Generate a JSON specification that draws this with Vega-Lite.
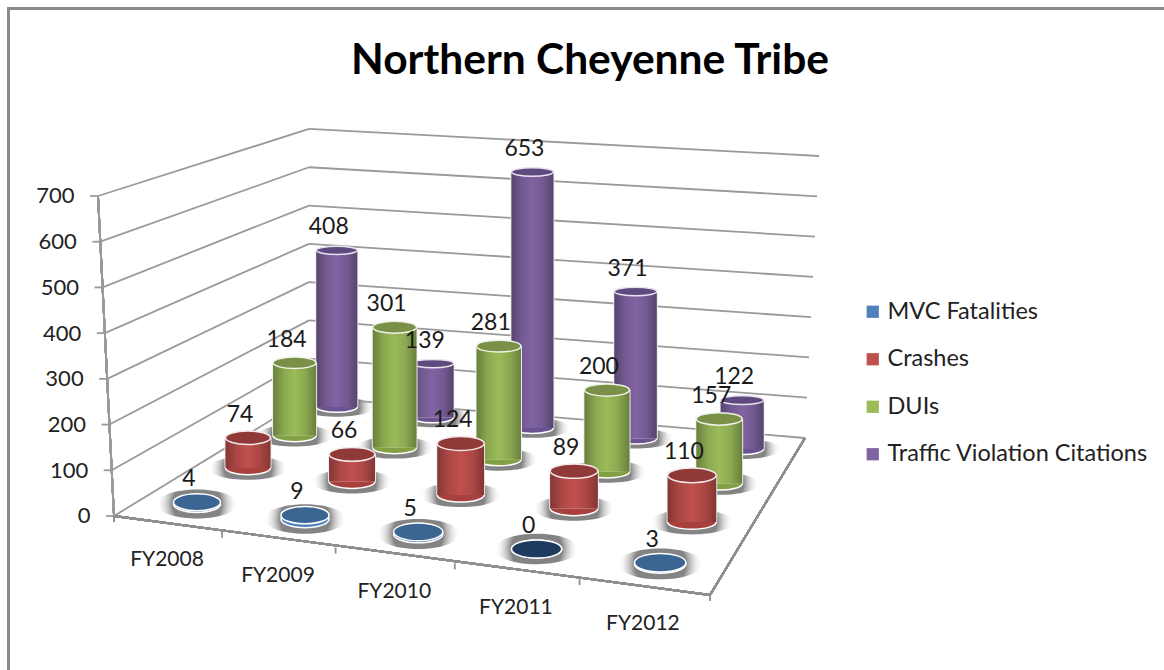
{"$schema":"https://vega.github.io/schema/vega-lite/v6.json","width":1164,"height":670,"padding":0,"autosize":{"type":"none"},"background":"white",
"title":{"text":"Northern Cheyenne Tribe","anchor":"middle","frame":"group","offset":-82,"dx":8,"fontSize":42.5,"font":"Lato","fontWeight":"bold","color":"#000000"},
"config":{"view":{"stroke":null},"axisX":{"disable":true},"axisY":{"grid":false,"domain":false,"ticks":false,"labelFont":"Lato","labelFontSize":22,"labelColor":"#222222"},"text":{"font":"Lato"}},
"datasets":{"ticks":[{"tick":0},{"tick":100},{"tick":200},{"tick":300},{"tick":400},{"tick":500},{"tick":600},{"tick":700}]},
"data":{"values":[
{"fy":"FY2008","series":"Traffic Violation Citations","value":408},{"fy":"FY2009","series":"Traffic Violation Citations","value":139},{"fy":"FY2010","series":"Traffic Violation Citations","value":653},{"fy":"FY2011","series":"Traffic Violation Citations","value":371},{"fy":"FY2012","series":"Traffic Violation Citations","value":122},
{"fy":"FY2008","series":"DUIs","value":184},{"fy":"FY2009","series":"DUIs","value":301},{"fy":"FY2010","series":"DUIs","value":281},{"fy":"FY2011","series":"DUIs","value":200},{"fy":"FY2012","series":"DUIs","value":157},
{"fy":"FY2008","series":"Crashes","value":74},{"fy":"FY2009","series":"Crashes","value":66},{"fy":"FY2010","series":"Crashes","value":124},{"fy":"FY2011","series":"Crashes","value":89},{"fy":"FY2012","series":"Crashes","value":110},
{"fy":"FY2008","series":"MVC Fatalities","value":4},{"fy":"FY2009","series":"MVC Fatalities","value":9},{"fy":"FY2010","series":"MVC Fatalities","value":5},{"fy":"FY2011","series":"MVC Fatalities","value":0},{"fy":"FY2012","series":"MVC Fatalities","value":3}
]},
"transform":[
{"calculate":"indexof(['FY2008','FY2009','FY2010','FY2011','FY2012'],datum.fy)","as":"i"},
{"calculate":"indexof(['MVC Fatalities','Crashes','DUIs','Traffic Violation Citations'],datum.series)","as":"s"},
{"calculate":"197+53.2*datum.s-2.2*datum.s*datum.s+datum.i*(105.4-3.7*datum.s)+datum.i*datum.i*(2.6-0.28*datum.s)","as":"cx"},
{"calculate":"47-2*datum.s+datum.i*(1.1-0.2*datum.s)","as":"w"},
{"calculate":"datum.cx-datum.w/2","as":"xl"},{"calculate":"datum.cx+datum.w/2","as":"xr"},
{"calculate":"datum.xl-1","as":"xlo"},{"calculate":"datum.xr+1","as":"xhi"},
{"calculate":"(516-(504-37.83*datum.s+1.83*datum.s*datum.s+datum.i*(15-1.5*datum.s)))/0.45714","as":"ybase"},
{"calculate":"datum.ybase+datum.value*(0.42-0.012*datum.s+0.004*datum.i)/0.45714","as":"ytop"},
{"calculate":"datum.w*datum.w","as":"w2"},{"calculate":"(datum.w+34)*(datum.w+34)","as":"sw2"},
{"calculate":"167+108.3*datum.i+2.67*datum.i*datum.i","as":"lx"},{"calculate":"(516-(560.5+15.8*datum.i))/0.45714","as":"ly"},
{"calculate":"114+105.2*(datum.i+1)+2.8*(datum.i+1)*(datum.i+1)","as":"tx"},{"calculate":"-34.56*(datum.i+1)","as":"ty"},{"calculate":"datum.ty-13","as":"ty2"}
],
"layer":[
{"mark":{"type":"rect","fillOpacity":0,"stroke":"#8a8a8a","strokeWidth":2},"encoding":{
 "x":{"datum":8.5,"type":"quantitative","scale":{"domain":[0,1164],"nice":false,"zero":false}},"x2":{"datum":1300},
 "y":{"datum":1110,"type":"quantitative","scale":{"domain":[-336.9,1128.75],"nice":false,"zero":false},"axis":{"title":null,"offset":-90,"values":[0,100,200,300,400,500,600,700],"labelPadding":{"expr":"datum.value*16/700"}}},"y2":{"datum":-600}}},
{"data":{"name":"ticks"},"transform":[{"calculate":"114-16*datum.tick/700","as":"xFL"},{"calculate":"260.3+0.8376*datum.tick","as":"yBL"},{"calculate":"309","as":"xBL"}],"mark":{"type":"rule","stroke":"#9a9a9a","strokeWidth":1.8},"encoding":{"x":{"field":"xFL","type":"quantitative"},"x2":{"field":"xBL"},"y":{"field":"tick","type":"quantitative"},"y2":{"field":"yBL"}}},
{"data":{"name":"ticks"},"transform":[{"calculate":"805+14*datum.tick/700","as":"xBR"},{"calculate":"260.3+0.8376*datum.tick","as":"yBL"},{"calculate":"170.6+0.8813*datum.tick","as":"yBR"},{"calculate":"309","as":"xBL"}],"mark":{"type":"rule","stroke":"#9a9a9a","strokeWidth":1.8},"encoding":{"x":{"field":"xBL","type":"quantitative"},"x2":{"field":"xBR"},"y":{"field":"yBL","type":"quantitative"},"y2":{"field":"yBR"}}},
{"data":{"name":"ticks"},"transform":[{"calculate":"114-16*datum.tick/700","as":"xFL"},{"calculate":"datum.xFL-8","as":"xT"}],"mark":{"type":"rule","stroke":"#9a9a9a","strokeWidth":1.8},"encoding":{"x":{"field":"xT","type":"quantitative"},"x2":{"field":"xFL"},"y":{"field":"tick","type":"quantitative"}}},
{"mark":{"type":"rule","stroke":"#9a9a9a","strokeWidth":1.8},"encoding":{"x":{"datum":114,"type":"quantitative"},"x2":{"datum":98},"y":{"datum":0,"type":"quantitative"},"y2":{"datum":700}}},
{"mark":{"type":"rule","stroke":"#8f8f8f","strokeWidth":1.8},"encoding":{"x":{"datum":114,"type":"quantitative"},"x2":{"datum":710},"y":{"datum":0,"type":"quantitative"},"y2":{"datum":-172.8}}},
{"mark":{"type":"rule","stroke":"#8f8f8f","strokeWidth":1.8},"encoding":{"x":{"datum":710,"type":"quantitative"},"x2":{"datum":805},"y":{"datum":-172.8,"type":"quantitative"},"y2":{"datum":170.6}}},
{"mark":{"type":"rule","stroke":"#8f8f8f","strokeWidth":1.8},"encoding":{"x":{"datum":114,"type":"quantitative"},"y":{"datum":0,"type":"quantitative"},"y2":{"datum":-13}}},
{"transform":[{"filter":"datum.s===0"}],"mark":{"type":"rule","stroke":"#8f8f8f","strokeWidth":1.8},"encoding":{"x":{"field":"tx","type":"quantitative"},"y":{"field":"ty","type":"quantitative"},"y2":{"field":"ty2"}}},

{"transform":[{"filter":"datum.s===3"}],"mark":{"type":"point","filled":true,"opacity":1,"shape":"M-1,0A1,.26,0,1,1,1,0A1,.26,0,1,1,-1,0Z","fill":{"gradient":"radial","x1":0.5,"y1":0.5,"r1":0,"x2":0.5,"y2":0.5,"r2":0.5,"stops":[{"offset":0.6,"color":"rgba(110,110,110,0.85)"},{"offset":1,"color":"rgba(255,255,255,0)"}]}},"encoding":{"x":{"field":"cx","type":"quantitative"},"y":{"field":"ybase","type":"quantitative"},"size":{"field":"sw2","type":"quantitative","scale":null}}},
{"transform":[{"filter":"datum.s===3"}],"mark":{"type":"point","filled":true,"opacity":1,"shape":"M-1,0A1,.26,0,1,1,1,0A1,.26,0,1,1,-1,0Z","fill":"#6b5290","stroke":"#ffffff","strokeWidth":1.5},"encoding":{"x":{"field":"cx","type":"quantitative"},"y":{"field":"ybase","type":"quantitative"},"size":{"field":"w2","type":"quantitative","scale":null}}},
{"transform":[{"filter":"datum.s===3"}],"mark":{"type":"rect","fill":"#eeeeee"},"encoding":{"x":{"field":"xlo","type":"quantitative"},"x2":{"field":"xhi"},"y":{"field":"ybase","type":"quantitative"},"y2":{"field":"ytop"}}},
{"transform":[{"filter":"datum.s===3"}],"mark":{"type":"rect"},"encoding":{"x":{"field":"xl","type":"quantitative"},"x2":{"field":"xr"},"y":{"field":"ybase","type":"quantitative"},"y2":{"field":"ytop"},"fill":{"field":"series","type":"nominal","scale":{"domain":["MVC Fatalities","Crashes","DUIs","Traffic Violation Citations"],"range":["#4f81bd","#c0504d","#9bbb59","#8064a2"]},"legend":{"title":null,"orient":"none","legendX":861,"legendY":300,"symbolType":"square","symbolSize":150,"labelFont":"Lato","labelFontSize":23.5,"labelColor":"#222222","rowPadding":22.5,"labelOffset":3,"labelLimit":400,"symbolStrokeWidth":0}}}},
{"transform":[{"filter":"datum.s===3"}],"mark":{"type":"rect","fill":{"gradient":"linear","x1":0,"y1":0,"x2":1,"y2":0,"stops":[{"offset":0,"color":"rgba(0,0,0,0.32)"},{"offset":0.25,"color":"rgba(0,0,0,0.1)"},{"offset":0.5,"color":"rgba(0,0,0,0)"},{"offset":0.75,"color":"rgba(0,0,0,0.1)"},{"offset":1,"color":"rgba(0,0,0,0.32)"}]}},"encoding":{"x":{"field":"xl","type":"quantitative"},"x2":{"field":"xr"},"y":{"field":"ybase","type":"quantitative"},"y2":{"field":"ytop"}}},
{"transform":[{"filter":"datum.s===3"}],"mark":{"type":"point","filled":true,"opacity":1,"shape":"M-1,0A1,.2,0,1,1,1,0A1,.2,0,1,1,-1,0Z","fill":"#5f4a80","stroke":"#e8e4ee","strokeWidth":1.5},"encoding":{"x":{"field":"cx","type":"quantitative"},"y":{"field":"ytop","type":"quantitative"},"size":{"field":"w2","type":"quantitative","scale":null}}},

{"transform":[{"filter":"datum.s===2"}],"mark":{"type":"point","filled":true,"opacity":1,"shape":"M-1,0A1,.28,0,1,1,1,0A1,.28,0,1,1,-1,0Z","fill":{"gradient":"radial","x1":0.5,"y1":0.5,"r1":0,"x2":0.5,"y2":0.5,"r2":0.5,"stops":[{"offset":0.6,"color":"rgba(110,110,110,0.85)"},{"offset":1,"color":"rgba(255,255,255,0)"}]}},"encoding":{"x":{"field":"cx","type":"quantitative"},"y":{"field":"ybase","type":"quantitative"},"size":{"field":"sw2","type":"quantitative","scale":null}}},
{"transform":[{"filter":"datum.s===2"}],"mark":{"type":"point","filled":true,"opacity":1,"shape":"M-1,0A1,.28,0,1,1,1,0A1,.28,0,1,1,-1,0Z","fill":"#82a044","stroke":"#ffffff","strokeWidth":1.5},"encoding":{"x":{"field":"cx","type":"quantitative"},"y":{"field":"ybase","type":"quantitative"},"size":{"field":"w2","type":"quantitative","scale":null}}},
{"transform":[{"filter":"datum.s===2"}],"mark":{"type":"rect","fill":"#eeeeee"},"encoding":{"x":{"field":"xlo","type":"quantitative"},"x2":{"field":"xhi"},"y":{"field":"ybase","type":"quantitative"},"y2":{"field":"ytop"}}},
{"transform":[{"filter":"datum.s===2"}],"mark":{"type":"rect"},"encoding":{"x":{"field":"xl","type":"quantitative"},"x2":{"field":"xr"},"y":{"field":"ybase","type":"quantitative"},"y2":{"field":"ytop"},"fill":{"field":"series","type":"nominal"}}},
{"transform":[{"filter":"datum.s===2"}],"mark":{"type":"rect","fill":{"gradient":"linear","x1":0,"y1":0,"x2":1,"y2":0,"stops":[{"offset":0,"color":"rgba(0,0,0,0.32)"},{"offset":0.25,"color":"rgba(0,0,0,0.1)"},{"offset":0.5,"color":"rgba(0,0,0,0)"},{"offset":0.75,"color":"rgba(0,0,0,0.1)"},{"offset":1,"color":"rgba(0,0,0,0.32)"}]}},"encoding":{"x":{"field":"xl","type":"quantitative"},"x2":{"field":"xr"},"y":{"field":"ybase","type":"quantitative"},"y2":{"field":"ytop"}}},
{"transform":[{"filter":"datum.s===2"}],"mark":{"type":"point","filled":true,"opacity":1,"shape":"M-1,0A1,.27,0,1,1,1,0A1,.27,0,1,1,-1,0Z","fill":"#7a9048","stroke":"#eef2e4","strokeWidth":1.5},"encoding":{"x":{"field":"cx","type":"quantitative"},"y":{"field":"ytop","type":"quantitative"},"size":{"field":"w2","type":"quantitative","scale":null}}},

{"transform":[{"filter":"datum.s===1"}],"mark":{"type":"point","filled":true,"opacity":1,"shape":"M-1,0A1,.3,0,1,1,1,0A1,.3,0,1,1,-1,0Z","fill":{"gradient":"radial","x1":0.5,"y1":0.5,"r1":0,"x2":0.5,"y2":0.5,"r2":0.5,"stops":[{"offset":0.6,"color":"rgba(110,110,110,0.85)"},{"offset":1,"color":"rgba(255,255,255,0)"}]}},"encoding":{"x":{"field":"cx","type":"quantitative"},"y":{"field":"ybase","type":"quantitative"},"size":{"field":"sw2","type":"quantitative","scale":null}}},
{"transform":[{"filter":"datum.s===1"}],"mark":{"type":"point","filled":true,"opacity":1,"shape":"M-1,0A1,.3,0,1,1,1,0A1,.3,0,1,1,-1,0Z","fill":"#a8403d","stroke":"#ffffff","strokeWidth":1.5},"encoding":{"x":{"field":"cx","type":"quantitative"},"y":{"field":"ybase","type":"quantitative"},"size":{"field":"w2","type":"quantitative","scale":null}}},
{"transform":[{"filter":"datum.s===1"}],"mark":{"type":"rect","fill":"#eeeeee"},"encoding":{"x":{"field":"xlo","type":"quantitative"},"x2":{"field":"xhi"},"y":{"field":"ybase","type":"quantitative"},"y2":{"field":"ytop"}}},
{"transform":[{"filter":"datum.s===1"}],"mark":{"type":"rect"},"encoding":{"x":{"field":"xl","type":"quantitative"},"x2":{"field":"xr"},"y":{"field":"ybase","type":"quantitative"},"y2":{"field":"ytop"},"fill":{"field":"series","type":"nominal"}}},
{"transform":[{"filter":"datum.s===1"}],"mark":{"type":"rect","fill":{"gradient":"linear","x1":0,"y1":0,"x2":1,"y2":0,"stops":[{"offset":0,"color":"rgba(0,0,0,0.32)"},{"offset":0.25,"color":"rgba(0,0,0,0.1)"},{"offset":0.5,"color":"rgba(0,0,0,0)"},{"offset":0.75,"color":"rgba(0,0,0,0.1)"},{"offset":1,"color":"rgba(0,0,0,0.32)"}]}},"encoding":{"x":{"field":"xl","type":"quantitative"},"x2":{"field":"xr"},"y":{"field":"ybase","type":"quantitative"},"y2":{"field":"ytop"}}},
{"transform":[{"filter":"datum.s===1"}],"mark":{"type":"point","filled":true,"opacity":1,"shape":"M-1,0A1,.3,0,1,1,1,0A1,.3,0,1,1,-1,0Z","fill":"#8f3a38","stroke":"#f5e8e8","strokeWidth":1.5},"encoding":{"x":{"field":"cx","type":"quantitative"},"y":{"field":"ytop","type":"quantitative"},"size":{"field":"w2","type":"quantitative","scale":null}}},

{"transform":[{"filter":"datum.s===0"}],"mark":{"type":"point","filled":true,"opacity":1,"shape":"M-1,0A1,.36,0,1,1,1,0A1,.36,0,1,1,-1,0Z","fill":{"gradient":"radial","x1":0.5,"y1":0.5,"r1":0,"x2":0.5,"y2":0.5,"r2":0.5,"stops":[{"offset":0.6,"color":"rgba(110,110,110,0.85)"},{"offset":1,"color":"rgba(255,255,255,0)"}]}},"encoding":{"x":{"field":"cx","type":"quantitative"},"y":{"field":"ybase","type":"quantitative"},"size":{"field":"sw2","type":"quantitative","scale":null}}},
{"transform":[{"filter":"datum.s===0"}],"mark":{"type":"point","filled":true,"opacity":1,"shape":"M-1,0A1,.36,0,1,1,1,0A1,.36,0,1,1,-1,0Z","fill":"#4f81bd","stroke":"#ffffff","strokeWidth":1.5},"encoding":{"x":{"field":"cx","type":"quantitative"},"y":{"field":"ybase","type":"quantitative"},"size":{"field":"w2","type":"quantitative","scale":null}}},
{"transform":[{"filter":"datum.s===0"}],"mark":{"type":"point","filled":true,"opacity":1,"shape":"M-1,0A1,.36,0,1,1,1,0A1,.36,0,1,1,-1,0Z","stroke":"#ffffff","strokeWidth":1.5},"encoding":{"x":{"field":"cx","type":"quantitative"},"y":{"field":"ytop","type":"quantitative"},"size":{"field":"w2","type":"quantitative","scale":null},"fill":{"condition":{"test":"datum.value===0","value":"#1f3a5f"},"value":"#3b6593"}}},

{"mark":{"type":"text","fontSize":23,"color":"#1a1a1a","dx":-8,"dy":-23,"baseline":"middle"},"encoding":{"x":{"field":"cx","type":"quantitative"},"y":{"field":"ytop","type":"quantitative"},"text":{"field":"value","type":"quantitative"}}},
{"transform":[{"filter":"datum.s===0"}],"mark":{"type":"text","fontSize":21,"color":"#222222","baseline":"middle"},"encoding":{"x":{"field":"lx","type":"quantitative"},"y":{"field":"ly","type":"quantitative"},"text":{"field":"fy","type":"nominal"}}}
]}
